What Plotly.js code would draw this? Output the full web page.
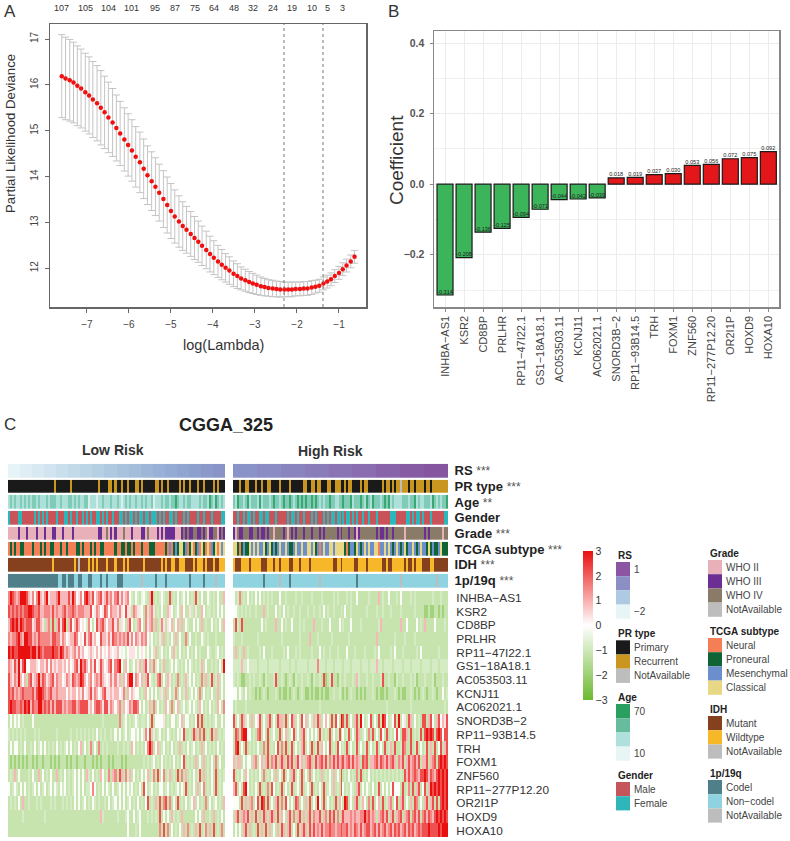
<!DOCTYPE html>
<html>
<head>
<meta charset="utf-8">
<script src="https://cdn.plot.ly/plotly-3.0.1.min.js"></script>
<style>html,body{margin:0;padding:0;background:#fff}</style>
</head>
<body>
<div id="chart" style="width:790px;height:841px"></div>
<script>
// ---------- Panel A ----------
const logLambda = [-7.60,-7.51,-7.41,-7.32,-7.23,-7.14,-7.04,-6.95,-6.86,-6.76,-6.67,-6.58,-6.49,-6.39,-6.30,-6.21,-6.11,-6.02,-5.93,-5.84,-5.74,-5.65,-5.56,-5.46,-5.37,-5.28,-5.18,-5.09,-5.00,-4.91,-4.81,-4.72,-4.63,-4.53,-4.44,-4.35,-4.26,-4.16,-4.07,-3.98,-3.88,-3.79,-3.70,-3.61,-3.51,-3.42,-3.33,-3.23,-3.14,-3.05,-2.96,-2.86,-2.77,-2.68,-2.58,-2.49,-2.40,-2.30,-2.21,-2.12,-2.03,-1.93,-1.84,-1.75,-1.65,-1.56,-1.47,-1.37,-1.28,-1.19,-1.10,-1.00,-0.91,-0.82,-0.72,-0.63];
const deviance = [16.19,16.14,16.10,16.05,15.98,15.92,15.84,15.77,15.68,15.60,15.50,15.40,15.29,15.18,15.06,14.94,14.81,14.69,14.57,14.43,14.31,14.17,14.03,13.90,13.78,13.65,13.51,13.38,13.25,13.13,13.02,12.92,12.84,12.75,12.66,12.58,12.49,12.40,12.31,12.23,12.15,12.08,12.01,11.95,11.88,11.83,11.78,11.74,11.70,11.67,11.64,11.61,11.59,11.57,11.56,11.55,11.54,11.54,11.54,11.54,11.55,11.55,11.56,11.56,11.58,11.60,11.62,11.67,11.71,11.76,11.83,11.90,11.98,12.06,12.15,12.25];
const devianceSE = [.905,.90,.89,.88,.87,.86,.85,.84,.83,.82,.81,.79,.77,.74,.72,.70,.69,.68,.67,.66,.66,.65,.64,.64,.63,.62,.62,.61,.60,.58,.56,.53,.51,.49,.47,.45,.43,.41,.39,.37,.35,.33,.31,.30,.28,.27,.25,.24,.23,.22,.21,.20,.19,.18,.18,.17,.17,.16,.16,.16,.15,.15,.15,.15,.15,.14,.14,.14,.14,.14,.14,.14,.14,.14,.14,.14];
const topCounts = ['107','105','104','101','95','87','75','64','48','32','24','19','10','5','3'];
const topCountX = [-7.6,-7.04,-6.49,-5.93,-5.37,-4.91,-4.44,-3.98,-3.51,-3.05,-2.58,-2.12,-1.65,-1.28,-0.91];
const lambdaLines = [-2.31,-1.38];

// ---------- Panel B ----------
const genes = ['INHBA−AS1','KSR2','CD8BP','PRLHR','RP11−47I22.1','GS1−18A18.1','AC053503.11','KCNJ11','AC062021.1','SNORD3B−2','RP11−93B14.5','TRH','FOXM1','ZNF560','RP11−277P12.20','OR2I1P','HOXD9','HOXA10'];
const coefficients = [-0.314,-0.208,-0.136,-0.125,-0.094,-0.071,-0.044,-0.042,-0.039,0.018,0.019,0.027,0.030,0.053,0.056,0.072,0.075,0.092];

// ---------- Panel C: annotation tracks (one letter per sample group) ----------
const trackNames = ['RS','PR type','Age','Gender','Grade','TCGA subtype','IDH','1p/19q'];
const trackStars = ['***','***','**','','***','***','***','***'];
const lowTracks = [
 'aaaaaabbbbbbccccccddddddeeeeeeffffffgggggghhhhhhiiiiiijjjjjjkkkkkkllllllmmmmmmnnnnnnooooooppppppqqqqqqrrrrrr',
 'PPPPPPPPPP PPPPPPPPPP PPPRPPPPPP PRPPPPPPPP PPPPPRPPPP RRPRPPRPPR PPPRRPRPPP PPPRRPRPPR PPPPPRPRPP RPPPRPPRPP PPRPRPPP',
 'bcbcbbcbcb cbccbcbbbc bcccbbcbbb ccbcbcbbcc abbbabbcbb bcbbcbabcb cbbcbbcbcb bcabbbcbcc bccdcbbcbc cbbbbcbccb dcbdcbcb',
 'FMMMMFFMMM MMMFMFMFMF MMMMFMMMFF MFMMFMMFMF MFMMFFMFMF MMFMMFFMFM FFMFMFFMFF MFFFMFMFMM FFMFMMMFMF MMMMFMMFMM MFMMMMFF',
 'EEEEEGEEEG EEEEGEEEGE EEGGEEEGEE EEGEEEEEEE EEEEEGGEEH EGEGEEEHEE EGEEEEGGEH EEEEGEGEGG GGGEEEGHGH GGHHGGHGHE GGHHEGHG',
 'NPNPNNPPNN NNPNNNPNPN NPPNNNPNNP NNNNPPNPNN NPNPNNPPNN NNNPNNPPNP PNPNNNPNNN PPPNNNNNPN MNPMPCCPMN PCNPMNCPNC NMPCNCMC',
 'MMMMMMMMMM MMMMMMMMMM MMWMMMMMMM MMMWMXMMMM WMWMWMMMMW MMMWMMMWMW MMMMMMMWMM MMMMMMWMWM MWWMMWWWMM MMWMWWWMWM MMWMMWWW',
 'CCCCCCCCCC CCCCCCCCCC CCCCCDDCCD CCCDDCCDDD CCDDDDCDDC DDDDCCCDDD DDDDDDXDDD DDDCDDDDCD DDDDDDDDDD CDDDDDDCDD DDDXDDDD'
];
const highTracks = [
 'rrrrrrrrrrrrssssssssssssttttttttttttuuuuuuuuuuuuvvvvvvvvvvvvwwwwwwwwwwwwxxxxxxxxxxxxyyyyyyyyyyyyzzzzzzzzzzzz',
 'PPPRPPRRPP PRPPRPPRRP PPPRPPPPRP PPPPPRRPPR RPRRPPPRRP PRRRPPRPRR PPPPRPRRPP PPPPPRPRRP RPRRXRRRPR RPRRRRPRRP RRRRRRRR',
 'cbdccbcdbc ccbdbcccbc dccbcdccdc bcdcdcdccd cdcbcbccdc cbbccdcccd bcccdcbdcb dcccbcdcdb cbbbbcccbc cdbcbbcccb dcbcbccd',
 'MMFMMFMFFM FMMFFMFFMM MFMMMMMFMF FMFMMFMMMF MFMMMFMFMF FMFFMFMFFM FMFMMFMMFM MMFMMMMMMF FFMMMMMFFM FMFFMFMMMF MMMMMMFF',
 'GEHGGHHHGG HHGHGGHGHH EHHHHGHEHG HGHHHGHHHG HHHGHGHHHH HHGHGHHHGH HGEGHHHHHH HHGHGGHGHH GHHHHHEHHH HHHHHHGHGH HHHHHEHH',
 'CCPNPMPPCM CMCMMCPMCP MPMCMMCMPP MCMMCMMCCM CPMNMCMMCC MCCCCCPNPM MPCMPMCMCM MCCNMMCMCM PMCMPMCPMM CMPMCMMPCP MPPMCPPP',
 'WMMMWWWWMW WWWWMMMWWW MWWMWWWWMM WWWMWWWWMW WWWWWWWWWW MMWWMWWWWW WMMWWWWMWW WWWWWMMWMM WWWWWWMWMM WMWWWMMMMW WMMMMMMM',
 'DDDDDDDDDD DDDDDCDDDD DDDXDDDDCD DDDDDDDDDD DDDXDDDDDD DDDDDDDDDD DDCDDDDDDD DDDDDDDDDD DDDDXDDDDD DDDDDDDDDD DDXDDDDD'
];
// per-track colours
const trackColours = [
 {a:'#e6f3f7',b:'#dfeef4',c:'#d8e9f2',d:'#d1e4ef',e:'#cadfec',f:'#c3dae9',g:'#bcd5e6',h:'#b5cfe3',i:'#afc9e1',j:'#a9c3de',k:'#a3bddb',l:'#9eb7d8',m:'#99b1d6',n:'#94abd3',o:'#90a5d0',p:'#8d9fcd',q:'#8b99ca',r:'#8a93c7',s:'#8a8cc3',t:'#8a84be',u:'#8a7cb9',v:'#8a74b4',w:'#8a6cb0',x:'#8963aa',y:'#875ba4',z:'#85559f'},
 {P:'#1a1a1a',R:'#c9971f',X:'#bdbdbd'},
 {a:'#d6f0ee',b:'#aee0da',c:'#7fcbb6',d:'#3aa672'},
 {M:'#c8545a',F:'#2bb8bb'},
 {E:'#e8b0b8',G:'#6b2f93',H:'#8a7a68',X:'#bdbdbd'},
 {N:'#f47f56',P:'#0f6335',M:'#6b8fcc',C:'#e8d886'},
 {M:'#85401e',W:'#f6b828',X:'#bdbdbd'},
 {C:'#4f7f88',D:'#8ed3df',X:'#bdbdbd'}
];

// ---------- Panel C: expression levels (one digit per sample group) ----------
const levelValues = [-1.9,-1.15,-0.85,-0.4,-0.1,0.35,0.9,1.5,2.2,3];
const lowHeat = [
 '7987679998 6574796579 5666796666 8697457489 7684678568 6757857567 4214213421 6912124211 8121412414 1218214114 21214116',
 '8787878788 9987786677 7686766786 7787677766 6845764587 4766575485 5176534172 6751214116 5412416411 5215116412 21214141',
 '6898979878 8856886516 7181685891 6846864542 7414867864 6685725416 8412674175 6716127515 4614616142 1141416121 14121416',
 '7677897699 8867687777 7688775764 5668745485 7856448665 7587676768 5747657674 2412151612 1416141171 4112114212 11121111',
 '9898899999 9899798788 8898879867 6567575644 5654646454 6545643424 5554245424 1426124121 4162141214 1214121114 21124121',
 '7658695894 4666546657 4756566564 6457859786 4758458645 7847894164 1241561684 6172412611 2414212141 4212126141 12121419',
 '8657696461 7856796875 6785766457 6587679864 6746768654 5757561647 9947646168 4212781416 5121712162 4141217161 28126141',
 '8786767877 7786899876 7866766664 6566465745 6857645785 5656645716 4654412164 1414125161 4127141261 2414171412 14116141',
 '8988778798 9687799787 8686888676 7788678888 5647887588 5764671645 7688741412 6171412164 1714612412 4142164121 41216417',
 '1414241211 1141111111 1111111111 1111111111 1111111211 1111171241 2124212214 1814444512 1441246144 1214818121 21241141',
 '2121212121 1112121111 1111211111 1211212121 2121412121 1214141241 2442414274 8151241214 2121424811 2186171812 18161212',
 '1414412141 1214124141 2121412124 1412146141 2714171212 1111211212 1641212147 9714612412 1412161214 1241216141 21214121',
 '1010101010 1101011011 1010101110 1011011101 1101010111 0101110101 1111111212 1241214121 2141214812 1216141612 14171411',
 '1216141111 2141161412 1411612141 2124141416 2141216412 7167186172 6141214146 1271814712 6121817161 2141281612 14181212',
 '4124214141 2124141241 2414214241 2124141412 2474121414 2141241414 2412141841 2412144124 1212414281 2141614712 14181214',
 '1212141611 2111212111 1212111212 1214141241 2142121121 4124141412 4121412148 1216181781 7141812141 2461412171 41241216',
 '1111111211 1111111121 1111111111 1111111111 1111116211 1111211124 1141241112 1212181414 1621216111 1114141611 21612141',
 '1111111111 1111111111 1111111111 1111111111 1111111111 1111111114 1112141111 1111171817 1412141617 1216181271 61812171'
];
const highHeat = [
 '4127121412 1414121212 1114112111 1211211112 1111211111 2121111212 1141111121 1116121141 1121411112 1211111111 21112111',
 '4421212121 1211161211 1412141211 2112111211 2112141211 2111214112 1111111211 1121121112 1111211111 1211110010 01101011',
 '1821811111 1111412111 1611412114 1112121111 6111211141 1114121114 1111211111 1112611111 1111611411 1141216111 14111121',
 '2111211111 1121111111 1111211111 1112111161 1121111112 1111111121 1111111111 1161111111 1211112111 1211111111 11111111',
 '1612161211 1112141112 1111121411 1212111112 1114121121 1121111411 1211112111 1214111112 1411121111 1121411111 11121111',
 '2222622422 2212222122 2221222212 2122222122 2272221222 1222212221 2222122212 2262212222 1222212221 2222122221 22212222',
 '2121001121 2112102111 2811210121 0211211210 2112180128 1102112111 2162111211 2111281121 1021121112 1201112111 20111211',
 '4414214121 1010121011 1210100101 2101210010 1001010011 2112101012 1101010111 2101001011 1210100112 1010121011 21011412',
 '1211112111 1111111111 1111111111 1111111111 1112111111 1111111111 1111111111 1111111211 1111111112 1111111111 11111121',
 '8141862416 1458141681 4186618148 6141846142 6186146418 1841981814 1681941248 1418198412 4819145186 1412188168 41684658',
 '1871899441 2178141812 4118146124 8141682414 1418212181 4128141281 4186124171 8141841812 1484188618 1212818989 81898488',
 '1891418121 2141171812 1481718128 1412681418 1281641481 2184121814 1281412814 1281418126 1811287118 1281412816 18148168',
 '6166141441 6714616817 6816861868 1685616786 1867868176 8686786786 8676187816 6786876867 8617681686 7868166816 78189898',
 '8121416412 1214171214 1614181416 8141814171 4121612141 6141812141 2171812141 2121212121 2121218686 7876889868 76898989',
 '6814189412 1418121718 4121814128 1241812418 1214181241 6121841214 2168141421 4128141414 8444181271 8168148169 89898989',
 '4441816167 1481981814 1681718414 1871416181 4194181412 1816419814 1681264171 8146181267 1481681416 1871416816 81818989',
 '1681676816 1816186168 6181641681 7168161681 7668167186 8171686667 6766779786 7616786816 8167816781 7868178687 68989898',
 '1414168161 2181618161 4161861681 4181686186 8676867787 7677877867 6876867886 7868678678 6878678687 8678788898 88898999'
];

// ---------- Legends ----------
const legendLeft = [
 {title:'RS', top:562, colours:['#8b55a3','#8b8fc5','#aec9e2','#e8f5f7'], labels:['1','','','−2']},
 {title:'PR type', top:640.3, colours:['#1a1a1a','#c9971f','#bdbdbd'], labels:['Primary','Recurrent','NotAvailable']},
 {title:'Age', top:704, colours:['#2a9f60','#66bc9c','#aee0dc','#e8f5f5'], labels:['70','','','10']},
 {title:'Gender', top:782, colours:['#c5555a','#2fb6bb'], labels:['Male','Female']}
];
const legendRight = [
 {title:'Grade', top:560, colours:['#e8b0b8','#6b2f93','#8a7a68','#bdbdbd'], labels:['WHO II','WHO III','WHO IV','NotAvailable']},
 {title:'TCGA subtype', top:638, colours:['#f47f56','#0f6335','#6b8fcc','#e8d886'], labels:['Neural','Proneural','Mesenchymal','Classical']},
 {title:'IDH', top:716, colours:['#85401e','#f6b828','#bdbdbd'], labels:['Mutant','Wildtype','NotAvailable']},
 {title:'1p/19q', top:780, colours:['#4f7f88','#8ed3df','#bdbdbd'], labels:['Codel','Non−codel','NotAvailable']}
];

// ---------- helpers ----------
const W = 790, H = 841, N = 108;
const FONT = 'Liberation Sans, Arial, sans-serif';
const dx = (a,b)=>[a/W,b/W];
const dy = (t,b)=>[1-b/H,1-t/H];
const clean = s=>s.replace(/\s/g,'');
const resample = s=>{const c=clean(s);return Array.from({length:N},(_,i)=>c[Math.floor(i*c.length/N)]);};
const columns = Array.from({length:N},(_,i)=>i);

// palette for tracks: every (track, letter) pair gets one integer index
const palette=[]; const codeIndex=trackColours.map(m=>{const o={};for(const k in m){o[k]=palette.length;palette.push(m[k]);}return o;});
const trackScale = palette.map((c,i)=>[i/(palette.length-1),c]);
const trackZ = rows=>rows.map((r,t)=>resample(r).map(ch=>codeIndex[t][ch]));
const heatZ = rows=>rows.map(r=>resample(r).map(ch=>levelValues[+ch]));
const heatScale = [[0,'#6cb92e'],[0.5,'#ffffff'],[1,'#e8110f']];
const trackLabels = trackNames.map((n,i)=>`<b>${n}</b>`+(trackStars[i]?` <span style="font-size:12px;color:#555">${trackStars[i]}</span>`:''));

const traces = [
 {type:'scatter',mode:'markers',x:logLambda,y:deviance,xaxis:'x',yaxis:'y',
  marker:{color:'#f01010',size:4.5},
  error_y:{type:'data',array:devianceSE,visible:true,color:'#c4c4c4',thickness:1,width:3.6}},
 {type:'bar',x:genes,y:coefficients,xaxis:'x2',yaxis:'y2',width:0.84,
  marker:{color:coefficients.map(v=>v<0?'#3bb45a':'#e3161a'),line:{color:'#1a1a1a',width:1.2}}},
 {type:'scatter',mode:'text',x:genes,y:coefficients,xaxis:'x2',yaxis:'y2',
  text:coefficients.map(v=>v.toFixed(3)),textposition:'top center',textfont:{size:5.6,color:'#222',family:FONT}},
 {type:'heatmap',z:trackZ(lowTracks),x:columns,y:trackNames,xaxis:'x3',yaxis:'y3',ygap:2.25,
  colorscale:trackScale,zmin:0,zmax:palette.length-1,showscale:false},
 {type:'heatmap',z:trackZ(highTracks),x:columns,y:trackNames,xaxis:'x4',yaxis:'y3',ygap:2.25,
  colorscale:trackScale,zmin:0,zmax:palette.length-1,showscale:false},
 {type:'heatmap',z:heatZ(lowHeat),x:columns,y:genes,xaxis:'x3',yaxis:'y4',
  colorscale:heatScale,zmin:-3,zmax:3,showscale:true,
  colorbar:{thickness:10,lenmode:'pixels',len:149,x:583/W,xanchor:'left',xpad:0,ypad:0,
    y:1-(551+74.5)/H,yanchor:'middle',tickvals:[-3,-2,-1,0,1,2,3],ticks:'',outlinewidth:0,
    tickfont:{size:10.5,color:'#333',family:FONT}}},
 {type:'heatmap',z:heatZ(highHeat),x:columns,y:genes,xaxis:'x4',yaxis:'y4',
  colorscale:heatScale,zmin:-3,zmax:3,showscale:false}
];

const ann = (x,y,text,o={})=>Object.assign({xref:'paper',yref:'paper',x:x/W,y:1-y/H,text,showarrow:false,
   xanchor:'center',yanchor:'middle',font:{family:FONT,size:11,color:'#333'}},o);

const annotations = [
 ann(10,11,'A',{font:{family:FONT,size:17,color:'#333'}}),
 ann(393,11,'B',{font:{family:FONT,size:17,color:'#333'}}),
 ann(10,424,'C',{font:{family:FONT,size:17,color:'#333'}}),
 ann(223,345,'log(Lambda)',{font:{family:FONT,size:14.5,color:'#333'}}),
 ann(10,134,'Partial Likelihood Deviance',{textangle:-90,font:{family:FONT,size:13.2,color:'#333'}}),
 ann(396,160,'Coefficient',{textangle:-90,font:{family:FONT,size:19,color:'#333'}}),
 ann(226,425,'<b>CGGA_325</b>',{font:{family:FONT,size:18,color:'#222'}}),
 ann(113.5,450,'<b>Low Risk</b>',{font:{family:FONT,size:14,color:'#333'}}),
 ann(330,451,'<b>High Risk</b>',{font:{family:FONT,size:14,color:'#333'}})
];
topCounts.forEach((t,i)=>annotations.push({xref:'x',yref:'paper',x:topCountX[i],y:1-8/H,text:t,showarrow:false,
   xanchor:'center',yanchor:'middle',font:{family:FONT,size:9,color:'#333'}}));

const shapes = lambdaLines.map(v=>({type:'line',xref:'x',yref:'y',x0:v,x1:v,y0:11.156,y1:17.327,
   line:{color:'#777',width:1,dash:'dot'}}));

function addLegend(groups,x0,x1,labelX){
 groups.forEach(g=>{
  annotations.push(ann(x0,g.top-7,`<b>${g.title}</b>`,{xanchor:'left',font:{family:FONT,size:10,color:'#222'}}));
  g.colours.forEach((c,i)=>{
   const t=g.top+i*14.2;
   shapes.push({type:'rect',xref:'paper',yref:'paper',x0:x0/W,x1:x1/W,y0:1-(t+14.2)/H,y1:1-t/H,fillcolor:c,line:{width:0}});
   if(g.labels[i]) annotations.push(ann(labelX,t+7.1,g.labels[i],{xanchor:'left',font:{family:FONT,size:10,color:'#444'}}));
  });
 });
}
addLegend(legendLeft,616,630,632);
addLegend(legendRight,708,722,724);

const rBox = {showline:true,mirror:true,linecolor:'#666',linewidth:1.5,zeroline:false,showgrid:false,ticks:'outside',ticklen:4,tickcolor:'#666'};
const hidden = {showticklabels:false,ticks:'',showgrid:false,zeroline:false,showline:false};

const layout = {
 width:W,height:H,margin:{l:0,r:0,t:0,b:0},paper_bgcolor:'#fff',plot_bgcolor:'#fff',showlegend:false,hovermode:false,
 font:{family:FONT},bargap:0.16,
 xaxis:Object.assign({},rBox,{domain:dx(50,366),range:[-7.88,-0.357],anchor:'y',tickvals:[-7,-6,-5,-4,-3,-2,-1],
   ticklabelstandoff:3,tickfont:{size:10,color:'#444'}}),
 yaxis:Object.assign({},rBox,{domain:dy(24,307),range:[11.156,17.327],anchor:'x',tickvals:[12,13,14,15,16,17],tickangle:-90,
   ticklabelstandoff:3,tickfont:{size:10,color:'#444'}}),
 xaxis2:{domain:dx(434,779),range:[-0.58,17.56],anchor:'y2',type:'category',categoryorder:'array',categoryarray:genes,
   showline:true,mirror:true,linecolor:'#888',linewidth:1.5,showgrid:true,gridcolor:'#ececec',gridwidth:1,zeroline:false,
   ticks:'outside',ticklen:3,tickcolor:'#888',tickangle:-90,tickfont:{size:11,color:'#444'}},
 yaxis2:{domain:dy(31,307),range:[-0.348,0.434],anchor:'x2',tick0:0,dtick:0.2,
   showline:true,mirror:true,linecolor:'#888',linewidth:1.5,showgrid:true,gridcolor:'#ececec',gridwidth:1,zeroline:false,
   minor:{dtick:0.1,showgrid:true,gridcolor:'#f0f0f0',gridwidth:1},
   ticks:'outside',ticklen:3,tickcolor:'#888',ticklabelstandoff:3,tickfont:{size:10.5,color:'#555',weight:700},tickformat:'.1f'},
 xaxis3:Object.assign({},hidden,{domain:dx(8,225),range:[-0.5,107.5],anchor:'y4'}),
 xaxis4:Object.assign({},hidden,{domain:dx(233,448),range:[-0.5,107.5],anchor:'y4'}),
 yaxis3:{domain:dy(462.9,588.4),anchor:'x4',side:'right',type:'category',autorange:'reversed',categoryorder:'array',categoryarray:trackNames,
   tickmode:'array',tickvals:trackNames,ticktext:trackLabels,ticks:'outside',ticklen:3,tickcolor:'rgba(0,0,0,0)',
   showgrid:false,zeroline:false,showline:false,tickfont:{size:13,color:'#222'}},
 yaxis4:{domain:dy(591,837.3),anchor:'x4',side:'right',type:'category',autorange:'reversed',categoryorder:'array',categoryarray:genes,
   ticks:'outside',ticklen:5,tickcolor:'rgba(0,0,0,0)',showgrid:false,zeroline:false,showline:false,tickmode:'linear',dtick:1,
   tickfont:{size:11.8,color:'#333'}},
 annotations,shapes
};
Plotly.newPlot('chart',traces,layout,{displayModeBar:false,staticPlot:true});
</script>
</body>
</html>
